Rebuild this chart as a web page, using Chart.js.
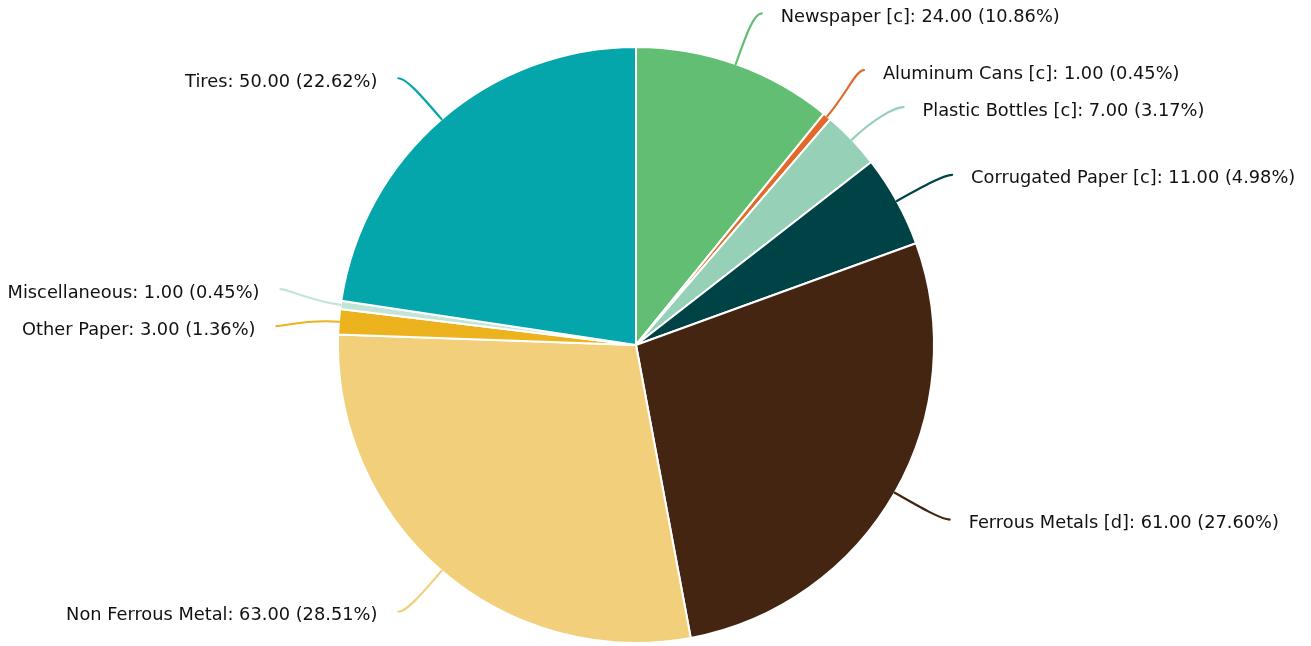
<!DOCTYPE html>
<html>
<head>
<meta charset="utf-8">
<script src="https://cdn.jsdelivr.net/npm/chart.js@4"></script>
<style>
html,body{margin:0;padding:0;background:#fff;}
#c{display:block;}
</style>
</head>
<body>
<canvas id="c" width="1311" height="646"></canvas>
<script>
const categories = ["Newspaper [c]", "Aluminum Cans [c]", "Plastic Bottles [c]", "Corrugated Paper [c]", "Ferrous Metals [d]", "Non Ferrous Metal", "Other Paper", "Miscellaneous", "Tires"];
const values = [24, 1, 7, 11, 61, 63, 3, 1, 50];
const colors = ["#62BE73", "#E2692B", "#95D0B7", "#004346", "#432512", "#F2D07B", "#ECB31F", "#C2E5D8", "#05A6AB"];

const total = values.reduce((a, b) => a + b, 0);

const labelPlugin = {
  id: 'outLabels',
  afterDraw(chart) {
    const ctx = chart.ctx;
    const meta = chart.getDatasetMeta(0);
    const ext = 54, gap = 37, hoff = 8;
    const items = meta.data.map((arc, i) => {
      const p = arc.getProps(['x', 'y', 'startAngle', 'endAngle', 'outerRadius'], true);
      const mid = (p.startAngle + p.endAngle) / 2;
      const R = p.outerRadius + ext;
      return {
        i, mid, cx: p.x, cy: p.y, r: p.outerRadius, R,
        side: Math.cos(mid) >= 0 ? 1 : -1,
        y: p.y + R * Math.sin(mid)
      };
    });
    [1, -1].forEach(side => {
      const group = items.filter(it => it.side === side).sort((a, b) => a.y - b.y);
      for (let iter = 0; iter < 200; iter++) {
        let moved = false;
        for (let k = 1; k < group.length; k++) {
          const d = group[k].y - group[k - 1].y;
          if (d < gap - 0.01) {
            const push = (gap - d) / 2;
            group[k - 1].y -= push;
            group[k].y += push;
            moved = true;
          }
        }
        if (!moved) break;
      }
    });
    ctx.save();
    ctx.font = '17.8px "DejaVu Sans", sans-serif';
    ctx.lineWidth = 2.2;
    ctx.lineCap = 'round';
    items.forEach(it => {
      const c = Math.cos(it.mid), s = Math.sin(it.mid);
      const x0 = it.cx + it.r * c, y0 = it.cy + it.r * s;
      const dy = it.y - it.cy;
      const dx = Math.sqrt(Math.max(it.R * it.R - dy * dy, 0));
      const x2 = it.cx + it.side * (dx + hoff), y2 = it.y;
      const c1x = x0 + c * 32, c1y = y0 + s * 32;
      const c2x = x2 - it.side * 8, c2y = y2;
      ctx.strokeStyle = colors[it.i];
      ctx.beginPath();
      ctx.moveTo(x0, y0);
      ctx.bezierCurveTo(c1x, c1y, c2x, c2y, x2, y2);
      ctx.stroke();
      const v = values[it.i];
      const txt = categories[it.i] + ': ' + v.toFixed(2) + ' (' + (v / total * 100).toFixed(2) + '%)';
      ctx.fillStyle = '#111';
      ctx.textBaseline = 'middle';
      ctx.textAlign = it.side > 0 ? 'left' : 'right';
      ctx.fillText(txt, x2 + it.side * (it.side > 0 ? 19 : 21), y2 + 4);
    });
    ctx.restore();
  }
};

new Chart(document.getElementById('c'), {
  type: 'pie',
  data: {
    labels: categories,
    datasets: [{
      data: values,
      backgroundColor: colors,
      borderColor: '#ffffff',
      borderWidth: 2
    }]
  },
  options: {
    responsive: false,
    animation: false,
    devicePixelRatio: 1,
    layout: { padding: { left: 337, right: 376, top: 46, bottom: 2 } },
    plugins: { legend: { display: false }, tooltip: { enabled: false } }
  },
  plugins: [labelPlugin]
});
</script>
</body>
</html>
